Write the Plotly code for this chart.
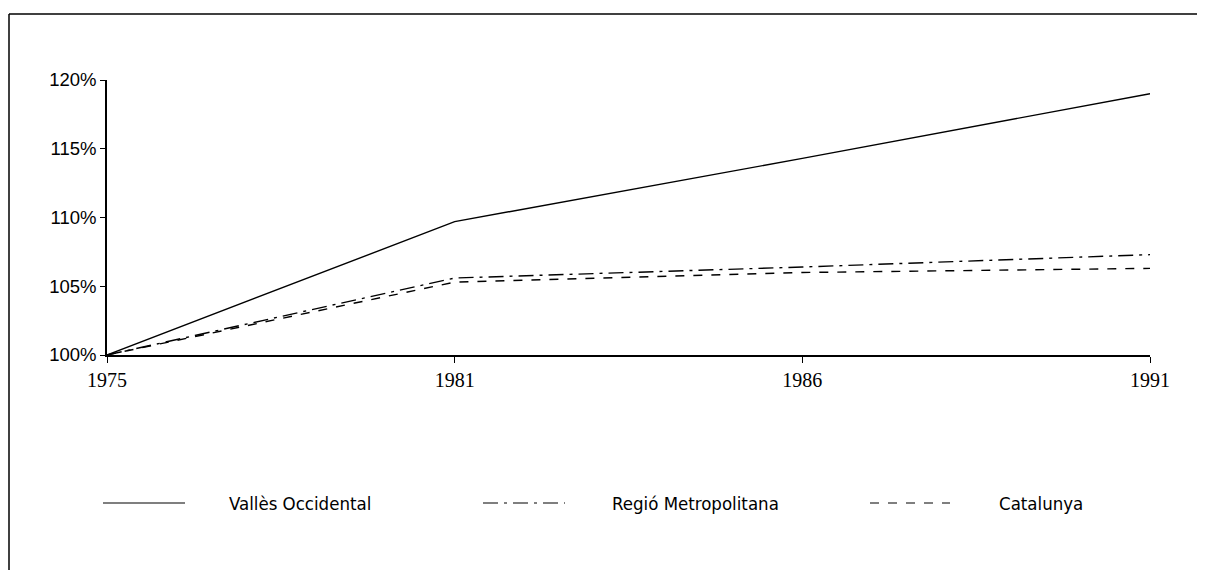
import plotly.graph_objects as go

years = ["1975", "1981", "1986", "1991"]
valles = [100.0, 109.7, 114.3, 119.0]
regio = [100.0, 105.6, 106.4, 107.3]
catalunya = [100.0, 105.3, 106.0, 106.3]
series_names = ["Vallès Occidental", "Regió Metropolitana", "Catalunya"]
y_ticks = [100, 105, 110, 115, 120]
y_labels = ["100%", "105%", "110%", "115%", "120%"]

OFF = 8  # page body margin
W, H = 1205, 572
X0, X1, Y0, Y1 = 107, 1150, 80, 355   # plot area in screen pixels
L, T = X0 - OFF, Y0 - OFF
R = W - (X1 - OFF)
B = H - (Y1 - OFF)
pw, ph = W - L - R, H - T - B

def px(x):
    return (x - OFF - L) / pw

def py(y):
    return (H - B - (y - OFF)) / ph

dashes = ["solid", "longdashdot", "dash"]
fig = go.Figure()
for name, vals, d in zip(series_names, [valles, regio, catalunya], dashes):
    fig.add_trace(go.Scatter(x=years, y=vals, mode="lines", name=name,
                             line=dict(color="black", width=1.4, dash=d),
                             showlegend=False))

fig.update_layout(
    width=W, height=H,
    margin=dict(l=L, r=R, t=T, b=B),
    plot_bgcolor="white", paper_bgcolor="white",
    xaxis=dict(type="category", range=[0, 3], showgrid=False, zeroline=False,
               showline=True, linecolor="black", linewidth=1.5,
               ticks="outside", ticklen=6, tickcolor="black",
               tickfont=dict(family="Liberation Serif", size=20, color="black")),
    yaxis=dict(range=[100, 120], tickvals=y_ticks, ticktext=y_labels,
               showgrid=False, zeroline=False,
               showline=True, linecolor="black", linewidth=1.5,
               ticks="outside", ticklen=5, tickcolor="black",
               tickfont=dict(family="Liberation Sans", size=18.5, color="black")),
)

# frame lines
fig.add_shape(type="line", xref="paper", yref="paper", x0=px(9), x1=px(1210),
              y0=py(14), y1=py(14), line=dict(color="black", width=1.5))
fig.add_shape(type="line", xref="paper", yref="paper", x0=px(9), x1=px(9),
              y0=py(14), y1=py(570), line=dict(color="black", width=1.5))

# manual legend
leg_y = 503
leg = [(103, 185, 227), (483, 565, 610), (870, 950, 997)]
for (x0, x1, xt), name, d in zip(leg, series_names, dashes):
    fig.add_shape(type="line", xref="paper", yref="paper", x0=px(x0), x1=px(x1),
                  y0=py(leg_y), y1=py(leg_y), line=dict(color="black", width=1.2, dash=d))
    fig.add_annotation(text=name, xref="paper", yref="paper", x=px(xt), y=py(leg_y),
                       xanchor="left", yanchor="middle", showarrow=False,
                       font=dict(family="Liberation Sans Narrow, DejaVu Sans Condensed, Liberation Sans",
                                 size=18.5, color="black"))

fig.write_html("out.html")
